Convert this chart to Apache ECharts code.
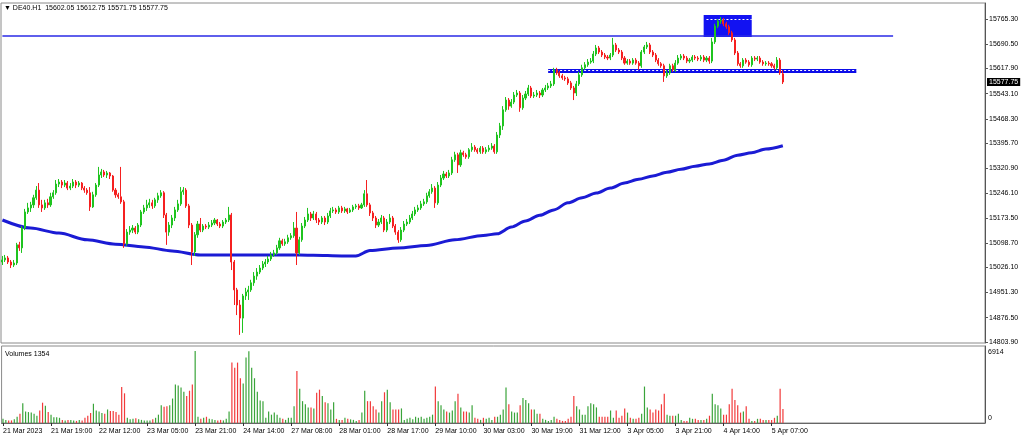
<!DOCTYPE html>
<html><head><meta charset="utf-8">
<script src="https://cdn.jsdelivr.net/npm/echarts@6/dist/echarts.min.js"></script>
<style>html,body{margin:0;padding:0;background:#fff}#c{width:1024px;height:439px}</style>
</head><body><div id="c"></div>
<script>
const symbol = 'DE40.H1';
const timeLabels = ['21 Mar 2023','21 Mar 19:00','22 Mar 12:00','23 Mar 05:00','23 Mar 21:00','24 Mar 14:00','27 Mar 08:00','28 Mar 01:00','28 Mar 17:00','29 Mar 10:00','30 Mar 03:00','30 Mar 19:00','31 Mar 12:00','3 Apr 05:00','3 Apr 21:00','4 Apr 14:00','5 Apr 07:00'];
const labelEvery = 17;
const priceTicks = ['15765.30','15690.50','15617.90','15543.10','15468.30','15395.70','15320.90','15246.10','15173.50','15098.70','15026.10','14951.30','14876.50','14803.90'];
const volumeTicks = [6914, 0];

const opens = [
15042,15048,15054,15042,15033,15039,15093,15084,15143,15191,
15203,15212,15233,15256,15212,15203,15218,15212,15236,15248,
15274,15280,15271,15277,15262,15268,15280,15271,15277,15262,
15256,15248,15206,15242,15271,15301,15310,15301,15307,15298,
15256,15242,15236,15221,15096,15131,15137,15143,15131,15152,
15191,15203,15212,15218,15209,15227,15239,15248,15182,15131,
15152,15173,15197,15215,15251,15256,15209,15152,15072,15123,
15155,15137,15149,15146,15152,15158,15167,15155,15149,15161,
15167,15182,15042,14959,14914,14875,14941,14953,14959,14980,
15000,15012,15024,15036,15042,15051,15063,15069,15084,15105,
15096,15102,15114,15120,15143,15069,15108,15149,15167,15185,
15173,15185,15167,15161,15173,15161,15179,15194,15197,15191,
15203,15194,15200,15191,15197,15206,15209,15203,15212,15245,
15212,15188,15173,15152,15161,15173,15137,15161,15173,15149,
15131,15108,15137,15155,15161,15173,15185,15197,15203,15215,
15221,15239,15251,15262,15218,15271,15292,15304,15298,15307,
15346,15361,15331,15367,15361,15355,15376,15384,15376,15370,
15381,15370,15376,15381,15387,15370,15420,15447,15495,15524,
15506,15518,15539,15545,15501,15530,15542,15560,15536,15539,
15545,15539,15554,15560,15566,15572,15614,15605,15596,15590,
15587,15575,15560,15545,15572,15599,15620,15629,15637,15640,
15661,15679,15667,15658,15652,15649,15658,15688,15673,15667,
15649,15634,15640,15634,15643,15634,15626,15667,15682,15688,
15667,15658,15643,15632,15626,15596,15605,15626,15614,15634,
15649,15655,15649,15640,15643,15652,15649,15646,15652,15643,
15649,15640,15697,15744,15759,15762,15751,15742,15724,15703,
15664,15632,15626,15643,15637,15629,15649,15646,15649,15637,
15632,15634,15632,15626,15620,15643,15602.05];
const closes = [
15048,15054,15042,15033,15039,15093,15084,15143,15191,15203,
15212,15233,15256,15212,15203,15218,15212,15236,15248,15274,
15280,15271,15277,15262,15268,15280,15271,15277,15262,15256,
15248,15206,15242,15271,15301,15310,15301,15307,15298,15256,
15242,15236,15221,15096,15131,15137,15143,15131,15152,15191,
15203,15212,15218,15209,15227,15239,15248,15182,15131,15152,
15173,15197,15215,15251,15256,15209,15152,15072,15123,15155,
15137,15149,15146,15152,15158,15167,15155,15149,15161,15167,
15182,15042,14959,14914,14875,14941,14953,14959,14980,15000,
15012,15024,15036,15042,15051,15063,15069,15084,15105,15096,
15102,15114,15120,15143,15069,15108,15149,15167,15185,15173,
15185,15167,15161,15173,15161,15179,15194,15197,15191,15203,
15194,15200,15191,15197,15206,15209,15203,15212,15245,15212,
15188,15173,15152,15161,15173,15137,15161,15173,15149,15131,
15108,15137,15155,15161,15173,15185,15197,15203,15215,15221,
15239,15251,15262,15218,15271,15292,15304,15298,15307,15346,
15361,15331,15367,15361,15355,15376,15384,15376,15370,15381,
15370,15376,15381,15387,15370,15420,15447,15495,15524,15506,
15518,15539,15545,15501,15530,15542,15560,15536,15539,15545,
15539,15554,15560,15566,15572,15614,15605,15596,15590,15587,
15575,15560,15545,15572,15599,15620,15629,15637,15640,15661,
15679,15667,15658,15652,15649,15658,15688,15673,15667,15649,
15634,15640,15634,15643,15634,15626,15667,15682,15688,15667,
15658,15643,15632,15626,15596,15605,15626,15614,15634,15649,
15655,15649,15640,15643,15652,15649,15646,15652,15643,15649,
15640,15697,15744,15759,15762,15751,15742,15724,15703,15664,
15632,15626,15643,15637,15629,15649,15646,15649,15637,15632,
15634,15632,15626,15620,15643,15605,15577.75];
const highs = [
15060,15063,15060,15048,15048,15099,15102,15149,15200,15218,
15221,15242,15268,15277,15227,15227,15230,15248,15256,15286,
15289,15286,15286,15283,15277,15289,15286,15283,15280,15268,
15262,15265,15251,15277,15325,15319,15316,15313,15310,15301,
15262,15248,15325,15227,15140,15149,15152,15149,15158,15197,
15212,15227,15230,15227,15233,15248,15256,15253,15188,15161,
15182,15206,15227,15265,15265,15262,15215,15158,15131,15164,
15173,15155,15155,15161,15167,15173,15170,15161,15167,15173,
15206,15188,15048,14965,14929,14947,14965,14971,14989,15012,
15024,15033,15045,15051,15060,15072,15078,15093,15114,15111,
15111,15123,15128,15161,15191,15117,15158,15176,15203,15191,
15194,15191,15173,15179,15179,15188,15203,15206,15203,15209,
15209,15206,15203,15203,15212,15215,15215,15218,15256,15286,
15218,15194,15179,15170,15182,15179,15170,15185,15179,15155,
15137,15146,15164,15170,15182,15194,15206,15212,15224,15230,
15248,15259,15274,15268,15280,15301,15313,15310,15316,15355,
15370,15367,15376,15373,15367,15381,15396,15390,15381,15387,
15387,15384,15390,15396,15393,15429,15456,15506,15533,15530,
15527,15548,15554,15551,15539,15551,15569,15566,15548,15554,
15551,15560,15569,15575,15581,15620,15620,15611,15602,15596,
15593,15581,15566,15581,15608,15629,15637,15646,15649,15670,
15688,15685,15673,15664,15658,15664,15709,15694,15679,15673,
15655,15646,15646,15649,15649,15640,15673,15688,15697,15694,
15673,15664,15649,15637,15632,15614,15632,15632,15643,15658,
15661,15661,15655,15649,15658,15658,15655,15658,15658,15655,
15655,15709,15751,15765,15771,15768,15757,15748,15730,15709,
15670,15637,15649,15649,15643,15655,15655,15655,15655,15643,
15640,15640,15637,15632,15652,15649,15612.75];
const lows = [
15033,15042,15036,15024,15027,15033,15075,15069,15137,15185,
15191,15203,15227,15203,15191,15197,15203,15206,15230,15242,
15265,15262,15265,15256,15256,15262,15262,15265,15256,15248,
15242,15194,15203,15236,15265,15292,15295,15292,15289,15251,
15233,15230,15215,15084,15090,15123,15128,15125,15125,15146,
15185,15194,15203,15200,15203,15218,15233,15173,15093,15120,
15143,15164,15191,15209,15242,15203,15143,15033,15060,15114,
15131,15131,15140,15140,15146,15152,15149,15143,15143,15155,
15161,15018,14914,14884,14825,14831,14929,14929,14953,14971,
14989,15006,15018,15027,15036,15045,15057,15063,15078,15090,
15090,15096,15108,15114,15033,15063,15102,15143,15161,15164,
15167,15158,15152,15155,15152,15155,15173,15188,15185,15185,
15188,15188,15185,15188,15191,15200,15197,15200,15206,15206,
15179,15164,15143,15146,15155,15131,15131,15155,15143,15123,
15099,15102,15131,15149,15155,15167,15179,15191,15197,15209,
15215,15233,15245,15203,15212,15265,15286,15292,15292,15301,
15340,15307,15325,15355,15349,15349,15370,15370,15364,15364,
15364,15364,15370,15376,15364,15364,15411,15435,15489,15495,
15501,15512,15533,15489,15495,15524,15536,15530,15530,15533,
15530,15533,15548,15554,15560,15566,15599,15590,15584,15581,
15569,15554,15524,15536,15566,15593,15614,15623,15632,15634,
15655,15661,15652,15646,15643,15643,15652,15667,15661,15643,
15629,15629,15629,15629,15629,15614,15620,15661,15676,15661,
15652,15637,15626,15620,15578,15590,15599,15608,15608,15629,
15643,15643,15634,15634,15637,15643,15640,15640,15637,15637,
15632,15634,15691,15738,15751,15744,15736,15718,15697,15658,
15626,15620,15620,15632,15623,15623,15640,15640,15632,15626,
15626,15626,15620,15614,15614,15599,15571.75];
const volumes = [
400,300,250,250,350,600,900,1900,1100,1050,
1000,900,700,1200,1950,1650,1050,800,550,550,
500,300,250,300,300,250,200,300,250,500,
700,950,1850,1200,1100,950,900,1300,1150,1150,
1050,800,3450,2850,500,350,400,450,350,300,
250,250,250,350,500,800,1700,1550,1600,1700,
2350,3700,3600,3400,3000,2600,3100,3700,6914,600,
400,500,600,400,350,300,250,300,250,400,
1100,5800,5300,5800,4300,3800,6300,6900,5300,4300,
3000,2150,2100,500,1100,800,1000,800,500,400,
300,500,500,1600,5000,3300,2100,1800,1500,1500,
1400,2900,3200,2600,2000,1900,1300,2000,400,300,
300,500,400,350,300,200,300,1000,3100,2100,
2100,1600,1300,1000,2100,2950,3200,2000,1300,1300,
1300,1400,300,400,500,350,600,500,600,400,
500,600,800,3500,2100,1700,1300,1100,1000,1200,
2100,2800,1500,1100,1100,1000,1700,500,400,300,
500,400,500,300,600,600,800,1300,3400,1800,
1100,1000,1000,1700,2400,2200,1900,1300,1300,900,
900,400,300,200,300,600,400,300,200,200,
400,600,2600,1600,1300,800,800,1600,1900,1800,
1500,600,600,600,600,1200,500,1200,500,700,
1400,1000,500,400,400,500,900,3500,1500,1300,
1000,1300,1200,1800,2800,800,700,700,700,900,
300,200,200,500,400,400,300,300,300,400,
700,2800,1800,1700,1400,800,800,1800,3300,2200,
1700,1000,1100,1600,400,200,200,400,400,300,
300,300,300,500,700,3300,1354];

// moving average read at sampled bars
const maBars = [0,10,20,30,40,50,60,70,80,90,100,110,120,125,130,140,150,160,170,175,180,185,190,195,200,205,210,215,220,225,230,235,240,245,250,255,260,265,270,276];
const maValues = [15167,15143,15128,15108,15095,15087,15075,15063,15063,15063,15063,15062,15060,15060,15076,15084,15091,15108,15121,15126,15146,15164,15181,15197,15218,15233,15247,15262,15277,15288,15298,15309,15318,15327,15334,15345,15360,15367,15378,15388];

// drawn objects (price levels and bar indices)
const resistanceLevel = 15714.6, resistanceFrom = 0, resistanceTo = 315;
const supportLevel = 15612.3, supportFrom = 193, supportTo = 302;
const boxTop = 15777, boxBottom = 15712, boxFrom = 248, boxTo = 265, boxMarker = 15766;

const totalSlots = 348;
const n = closes.length;
const categories = Array.from({length: totalSlots}, (_, i) => String(i));

const FONT = 'Liberation Sans';
const UP = '#1fc41f', DOWN = '#f52020', VUP = '#3aa43a', VDOWN = '#f23a3a';
const showIdx = (i) => i % labelEvery === 0 && (i / labelEvery) < timeLabels.length;

const chart = echarts.init(document.getElementById('c'), null, {renderer: 'canvas'});
const last = n - 1;
chart.setOption({
  animation: false,
  backgroundColor: '#ffffff',
  grid: [
    {left: 1, right: 39, top: 3, height: 340, show: true, borderColor: '#8a8a8a', borderWidth: 1},
    {left: 1, right: 39, top: 346, height: 77, show: true, borderColor: '#8a8a8a', borderWidth: 1}
  ],
  xAxis: [
    {type: 'category', gridIndex: 0, data: categories, boundaryGap: true,
     axisLine: {show: false}, axisTick: {show: false}, axisLabel: {show: false}, splitLine: {show: false}},
    {type: 'category', gridIndex: 1, data: categories, boundaryGap: true,
     axisLine: {show: true, lineStyle: {color: '#666'}},
     axisTick: {show: true, interval: (i) => showIdx(i), alignWithLabel: true, length: 3, lineStyle: {color: '#333'}},
     axisLabel: {interval: (i) => showIdx(i), formatter: (v, i) => timeLabels[Math.round(i / labelEvery)] || '',
       align: 'left', fontSize: 7, color: '#000', margin: 5, fontFamily: FONT},
     splitLine: {show: false}}
  ],
  yAxis: [
    {type: 'value', gridIndex: 0, position: 'right', min: 14800.9, max: 15812.9, scale: true,
     axisLine: {show: true, lineStyle: {color: '#555'}},
     axisTick: {show: true, customValues: priceTicks.map(Number), length: 3, lineStyle: {color: '#555'}},
     axisLabel: {customValues: priceTicks.map(Number), formatter: (v) => Number(v).toFixed(2),
       fontSize: 7, color: '#000', margin: 4, fontFamily: FONT},
     splitLine: {show: false}},
    {type: 'value', gridIndex: 1, position: 'right', min: 0, max: 7394,
     axisLine: {show: true, lineStyle: {color: '#555'}},
     axisTick: {show: false},
     axisLabel: {customValues: volumeTicks, formatter: (v) => v === 0 ? '{b|0}' : '{t|' + v + '}',
       fontSize: 7, color: '#000', margin: 3, fontFamily: FONT,
       rich: {b: {fontSize: 7, fontFamily: FONT, padding: [0, 0, 10, 0]}, t: {fontSize: 7, fontFamily: FONT, padding: [2, 0, 0, 0]}}},
     splitLine: {show: false}}
  ],
  graphic: [
    {type: 'text', left: 4, top: 5, z: 100, style: {
      text: '\u25BC ' + symbol + '  ' + opens[last].toFixed(2) + ' ' + highs[last].toFixed(2) + ' ' + lows[last].toFixed(2) + ' ' + closes[last].toFixed(2),
      fontSize: 7, fontFamily: FONT, fill: '#000'}},
    {type: 'text', left: 5, top: 351, z: 100, style: {
      text: 'Volumes ' + volumes[last], fontSize: 7, fontFamily: FONT, fill: '#000'}}
  ],
  series: [
    {type: 'line', name: 'MA', xAxisIndex: 0, yAxisIndex: 0, z: 2,
     data: maBars.map((b, k) => [b, maValues[k]]),
     showSymbol: false, smooth: 0.3, smoothMonotone: 'x',
     lineStyle: {color: '#1b1bd4', width: 3}, silent: true,
     markArea: {silent: true, itemStyle: {color: '#1212f2', opacity: 1},
       data: [[{coord: [boxFrom, boxTop]}, {coord: [boxTo, boxBottom]}]]},
     markLine: {silent: true, symbol: ['none', 'none'], label: {show: false},
       data: [
         [{coord: [resistanceFrom, resistanceLevel], lineStyle: {color: '#2a2ae6', width: 1.5, type: 'solid'}}, {coord: [resistanceTo, resistanceLevel]}],
         [{coord: [supportFrom, supportLevel], lineStyle: {color: '#0d0de8', width: 4, type: 'solid'}}, {coord: [supportTo, supportLevel]}],
         [{coord: [supportFrom, supportLevel], lineStyle: {color: '#ffffff', width: 1, type: [2, 2]}}, {coord: [supportTo, supportLevel]}],
         [{coord: [boxFrom + 0.5, boxMarker], lineStyle: {color: '#ffffff', width: 1, type: [2, 2]}}, {coord: [boxTo - 0.5, boxMarker]}]
       ]}},
    {type: 'line', name: 'Bid', xAxisIndex: 0, yAxisIndex: 0, z: 6, data: [], silent: true,
     markLine: {silent: true, symbol: ['none', 'none'],
       data: [{yAxis: closes[last], lineStyle: {color: 'rgba(0,0,0,0)', width: 0},
         label: {show: true, position: 'end', distance: 2,
           formatter: () => closes[last].toFixed(2), backgroundColor: '#000', color: '#fff',
           fontSize: 7, fontFamily: FONT, padding: [1, 2, 0, 2]}}]}},
    {type: 'candlestick', name: symbol, xAxisIndex: 0, yAxisIndex: 0, z: 5,
     data: opens.map((o, i) => [o, closes[i], lows[i], highs[i]]),
     barWidth: 1.6, silent: true,
     itemStyle: {color: UP, color0: DOWN, borderColor: UP, borderColor0: DOWN, borderWidth: 1}},
    {type: 'bar', name: 'Volumes', xAxisIndex: 1, yAxisIndex: 1, z: 5,
     data: volumes, barWidth: 1.2, silent: true,
     itemStyle: {color: (p) => closes[p.dataIndex] >= opens[p.dataIndex] ? VUP : VDOWN}}
  ]
});
</script>
</body></html>
